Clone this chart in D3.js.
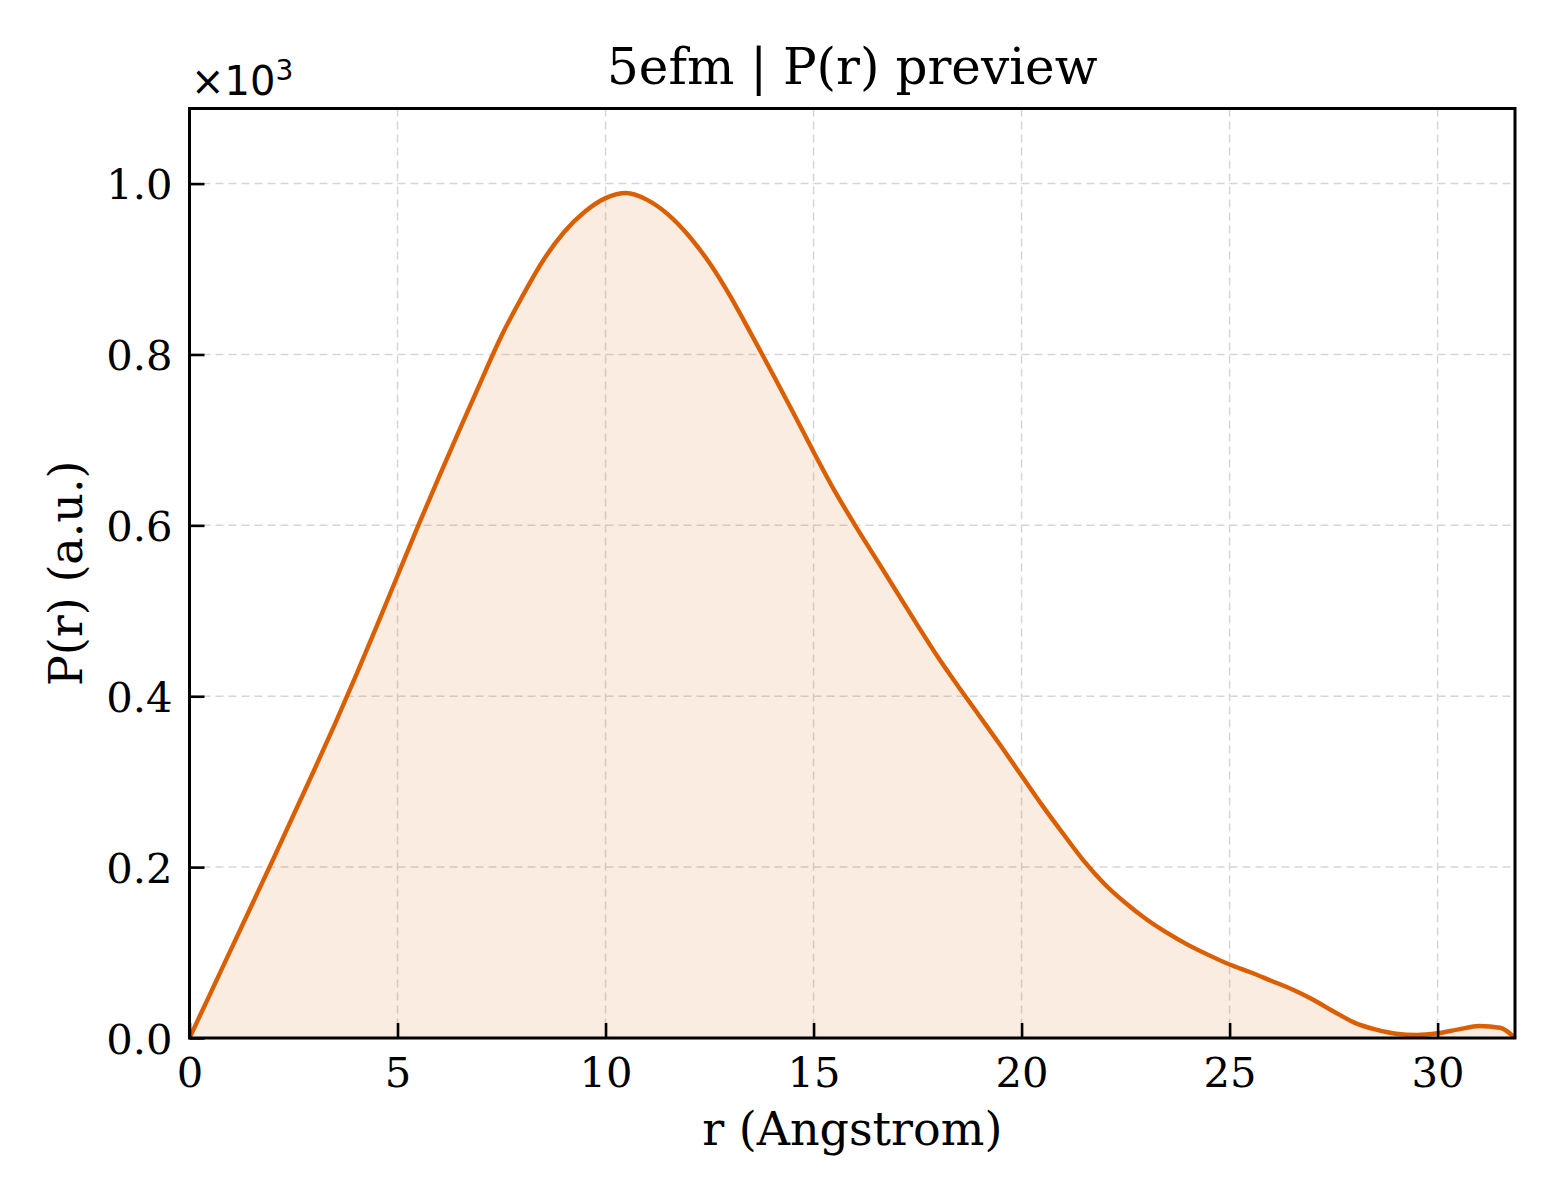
<!DOCTYPE html>
<html>
<head>
<meta charset="utf-8">
<script src="https://cdn.jsdelivr.net/npm/d3@7"></script>
<style>
  html, body { margin: 0; padding: 0; background: #fff; }
  svg { display: block; }
</style>
</head>
<body>
<svg id="chart" width="1560" height="1200"></svg>
<script>
// ---- data ----
const rValues = [0, 0.5, 1, 1.5, 2, 2.5, 3, 3.5, 4, 4.5, 5, 5.5, 6, 6.5, 7, 7.5, 8, 8.5, 9, 9.5,
  10, 10.5, 11, 11.5, 12, 12.5, 13, 13.5, 14, 14.5, 15, 15.5, 16, 16.5, 17, 17.5, 18, 18.5, 19, 19.5,
  20, 20.5, 21, 21.5, 22, 22.5, 23, 23.5, 24, 24.5, 25, 25.5, 26, 26.5, 27, 27.5, 28, 28.5, 29, 29.5,
  30, 30.5, 31, 31.5, 31.86];
const prValues = [0, 52, 104, 156, 208, 261, 314, 368, 424, 482, 541, 600, 657, 713, 768, 822, 868, 910, 943, 967,
  983, 989, 981, 964, 939, 907, 868, 824, 779, 733, 686, 641, 600, 561, 522, 483, 445, 410, 376, 342,
  307, 272, 239, 207, 180, 158, 139, 123, 109, 97, 86, 77, 67, 57, 45, 31, 18, 10, 5, 3.5,
  5.5, 10, 14, 12, 0];
const xTicks = [0, 5, 10, 15, 20, 25, 30];
const yTicks = [0, 200, 400, 600, 800, 1000];
const yTickLabels = ["0.0", "0.2", "0.4", "0.6", "0.8", "1.0"];
const titleText = "5efm | P(r) preview";
const xLabel = "r (Angstrom)";
const yLabel = "P(r) (a.u.)";

(function () {
// ---- layout ----
const pL = 189.5, pR = 1515, pT = 108.5, pB = 1038;
const lineColor = "#d95f02";
const serif = "'DejaVu Serif', serif";
const sans = "'DejaVu Sans', sans-serif";

const svg = d3.select("#chart");
const x = d3.scaleLinear().domain([0, d3.max(rValues)]).range([pL, pR]);
const yMax = d3.max(prValues) * 1.1;
const y = d3.scaleLinear().domain([0, yMax]).range([pB, pT]);

const data = rValues.map((r, i) => ({ r, v: prValues[i] }));

// grid
const grid = svg.append("g");
grid.selectAll("line.gx").data(xTicks.filter(t => t > 0)).join("line")
  .attr("x1", d => x(d)).attr("x2", d => x(d))
  .attr("y1", pT).attr("y2", pB)
  .attr("stroke", "#d6d6d6").attr("stroke-width", 1.5).attr("stroke-dasharray", "8,5");
grid.selectAll("line.gy").data(yTicks.filter(t => t > 0)).join("line")
  .attr("x1", pL).attr("x2", pR)
  .attr("y1", d => y(d)).attr("y2", d => y(d))
  .attr("stroke", "#d6d6d6").attr("stroke-width", 1.5).attr("stroke-dasharray", "8,5");

// area + line
svg.append("path").datum(data)
  .attr("d", d3.area().x(d => x(d.r)).y0(y(0)).y1(d => y(d.v)).curve(d3.curveMonotoneX))
  .attr("fill", lineColor).attr("fill-opacity", 0.12);
svg.append("path").datum(data)
  .attr("d", d3.line().x(d => x(d.r)).y(d => y(d.v)).curve(d3.curveMonotoneX))
  .attr("fill", "none").attr("stroke", lineColor).attr("stroke-width", 4.4)
  .attr("stroke-linejoin", "round").attr("stroke-linecap", "butt");

// axes (inward ticks)
const xAxis = d3.axisBottom(x).tickValues(xTicks).tickSize(-15).tickPadding(0).tickFormat(d3.format("d"));
const gx = svg.append("g").attr("transform", `translate(0,${pB})`).call(xAxis);
gx.select(".domain").remove();
gx.selectAll(".tick line").attr("stroke", "#000").attr("stroke-width", 2.6);
gx.selectAll(".tick text").attr("font-family", serif).attr("font-size", 41.7).attr("fill", "#000")
  .attr("y", 49).attr("dy", null);

const yAxis = d3.axisLeft(y).tickValues(yTicks).tickSize(-15).tickPadding(0)
  .tickFormat((d, i) => yTickLabels[i]);
const gy = svg.append("g").attr("transform", `translate(${pL},0)`).call(yAxis);
gy.select(".domain").remove();
gy.selectAll(".tick line").attr("stroke", "#000").attr("stroke-width", 2.6);
gy.selectAll(".tick text").attr("font-family", serif).attr("font-size", 41.7).attr("fill", "#000")
  .attr("x", -17).attr("dy", "0.36em");

// frame
svg.append("rect").attr("x", pL).attr("y", pT).attr("width", pR - pL).attr("height", pB - pT)
  .attr("fill", "none").attr("stroke", "#000").attr("stroke-width", 3);

// title & labels
svg.append("text").attr("x", (pL + pR) / 2).attr("y", 84).attr("text-anchor", "middle")
  .attr("font-family", serif).attr("font-size", 50).attr("fill", "#000").text(titleText);
svg.append("text").attr("x", (pL + pR) / 2).attr("y", 1145).attr("text-anchor", "middle")
  .attr("font-family", serif).attr("font-size", 46).attr("fill", "#000").text(xLabel);
svg.append("text").attr("transform", `translate(82,${(pT + pB) / 2}) rotate(-90)`).attr("text-anchor", "middle")
  .attr("font-family", serif).attr("font-size", 46).attr("fill", "#000").text(yLabel);

// offset text ×10³
const off = svg.append("text").attr("x", 191).attr("y", 95).attr("font-family", sans)
  .attr("font-size", 40).attr("fill", "#000");
off.append("tspan").text("\u00d710");
off.append("tspan").attr("font-size", 28).attr("dy", -15).text("3");
})();
</script>
</body>
</html>
